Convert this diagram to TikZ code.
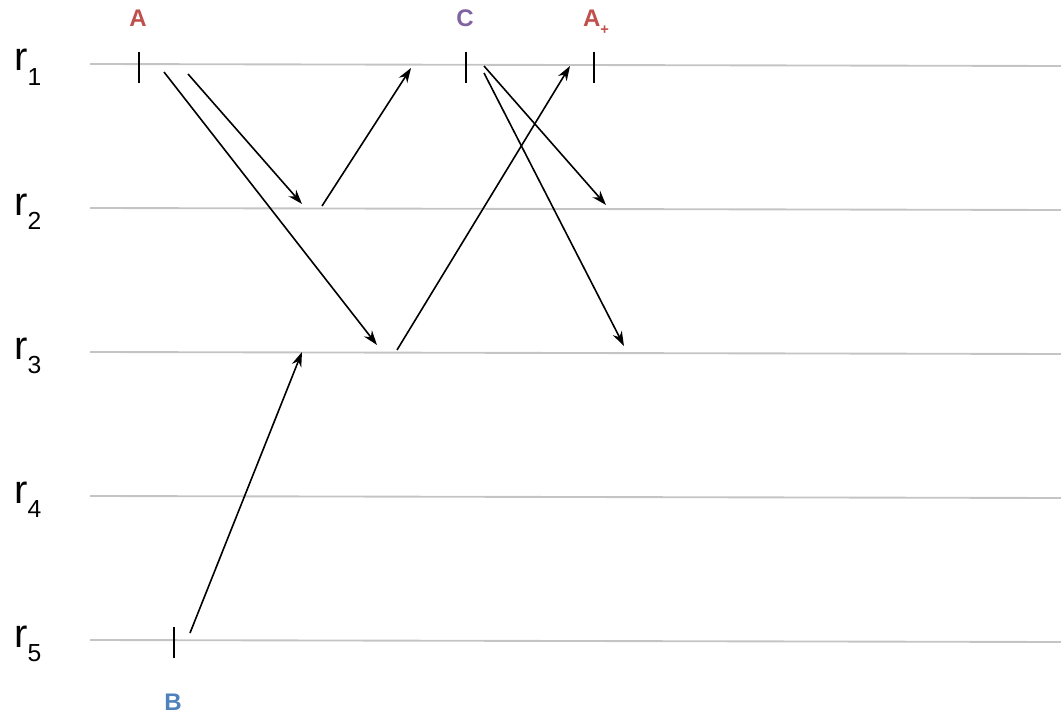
\documentclass[tikz,border=0pt]{standalone}
\usepackage{fontspec}
\setmainfont{Liberation Sans}
\usepackage{xcolor}
\usepackage{tikz}
\usetikzlibrary{arrows.meta}
\definecolor{evred}{HTML}{C0504D}
\definecolor{evpurple}{HTML}{8064A2}
\definecolor{evblue}{HTML}{4F81BD}
\definecolor{rowgray}{HTML}{C4C4C4}

\newcommand{\rowname}[1]{r\raisebox{-11pt}{\fontsize{18.5}{18.5}\selectfont #1}}

\begin{document}
\begin{tikzpicture}[x=0.75pt,y=-0.75pt,
    rowline/.style={rowgray, line width=1.4pt},
    rowlbl/.style={anchor=base west, inner sep=0pt, font=\fontsize{30}{30}\selectfont},
    evlbl/.style={anchor=base, inner sep=0pt, font=\fontsize{18}{18}\selectfont\bfseries},
    evtick/.style={line width=1.1pt},
    msg/.style={-{Stealth[length=11pt,width=7.5pt]}, line width=1.2pt}]
    \useasboundingbox (0,0) rectangle (1061,717);

    % Draw rows
    \foreach \k in {1,...,5} {
        \pgfmathsetmacro{\yy}{64+144*(\k-1)}
        \draw[rowline] (90,\yy) -- (1061,\yy+2);
        \node[rowlbl] (r\k) at (14,\yy+7) {\rowname{\k}};
    }

    % Events
    \coordinate (evA) at (139,67);
    \coordinate (evC) at (466,67);
    \coordinate (evAp) at (594,67);
    \coordinate (evB) at (174,642);
    \foreach \e in {evA,evC,evAp,evB}
        \draw[evtick] (\e) +(0,-15) -- +(0,16);

    \node[evlbl, evred] (lA) at (138,27) {A};
    \node[evlbl, evpurple] (lC) at (465,27) {C};
    \node[evlbl, evred] (lAp) at (596,27) {A\raisebox{-6pt}{\fontsize{11}{11}\selectfont +}};
    \node[evlbl, evblue] (lB) at (173,710) {B};

    % Messages
    \coordinate (m1s) at (164,72);  \coordinate (m1e) at (377,345);
    \coordinate (m2s) at (188,74);  \coordinate (m2e) at (302,204);
    \coordinate (m3s) at (322,206); \coordinate (m3e) at (411,68);
    \coordinate (m4s) at (397,350); \coordinate (m4e) at (570,66);
    \coordinate (m5s) at (484,66);  \coordinate (m5e) at (606,205);
    \coordinate (m6s) at (484,73);  \coordinate (m6e) at (624,346);
    \coordinate (m7s) at (190,633); \coordinate (m7e) at (302,352);
    \foreach \m in {1,...,7}
        \draw[msg] (m\m s) -- (m\m e);
\end{tikzpicture}
\end{document}
